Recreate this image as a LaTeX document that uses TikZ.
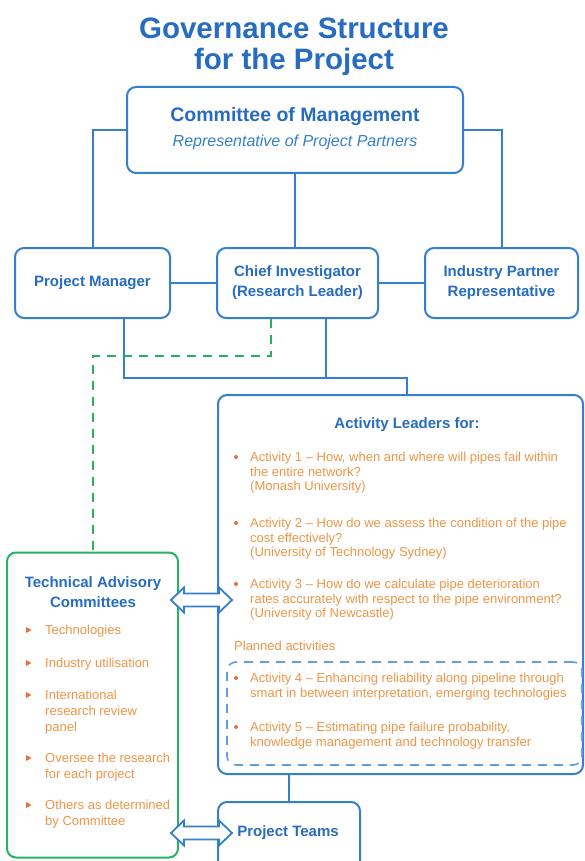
\documentclass[tikz,border=0pt]{standalone}
\usepackage{fontspec}
\setmainfont{Liberation Sans}
\definecolor{tblue}{RGB}{38,108,192}
\definecolor{lblue}{RGB}{52,128,205}
\definecolor{dblue}{RGB}{95,160,228}
\definecolor{gline}{RGB}{40,178,100}
\definecolor{gdash}{RGB}{45,175,85}
\definecolor{otext}{RGB}{238,150,72}
\definecolor{obul}{RGB}{232,112,60}
\begin{document}
\begin{tikzpicture}[x=1pt,y=-1pt,
  bx/.style={draw=lblue, line width=2pt, rounded corners=9pt, fill=white, inner sep=0pt},
  cn/.style={draw=lblue, line width=2pt},
  hd/.style={font=\fontsize{15}{20}\selectfont\bfseries, text=tblue, align=center, inner sep=0pt},
  ot/.style={font=\fontsize{13}{14.5}\selectfont, text=otext, align=left, anchor=north west, inner sep=0pt},
  tt/.style={font=\fontsize{13}{16}\selectfont, text=otext, align=left, anchor=north west, inner sep=0pt},
  blockarrow/.style={draw=lblue, line width=1.8pt, fill=white, line join=miter}
]
\useasboundingbox (0,0) rectangle (585,861);

% title
\node[font=\fontsize{29.5}{30.5}\selectfont\bfseries, text=tblue, align=center, inner sep=0pt] (title) at (294,47) {Governance Structure\\for the Project};

% boxes
\node[bx, minimum width=336, minimum height=86] (com) at (295,130) {};
\node[font=\fontsize{19.5}{22}\selectfont\bfseries, text=tblue, inner sep=0pt] (comt1) at (295,117) {Committee of Management};
\node[font=\fontsize{16}{18}\selectfont\itshape, text=lblue, inner sep=0pt] (comt2) at (295,142) {Representative of Project Partners};

\node[bx, minimum width=155, minimum height=70] (pm) at (92.5,283) {};
\node[hd] (pmt) at (pm.center) {Project Manager};
\node[bx, minimum width=161, minimum height=70] (ci) at (297.5,283) {};
\node[hd] (cit) at (ci.center) {Chief Investigator\\(Research Leader)};
\node[bx, minimum width=153, minimum height=70] (ind) at (501.5,283) {};
\node[hd] (indt) at (ind.center) {Industry Partner\\Representative};

% connectors top
\draw[cn] (com.west) -| (pm.north);
\draw[cn] (com.east) -| (ind.north);
\draw[cn] (com.south) -- (com.south |- ci.north);
\draw[cn] (pm.east) -- (ci.west);
\draw[cn] (ci.east) -- (ind.west);

% activity box
\node[bx, minimum width=365, minimum height=379] (act) at (400.5,584.5) {};
\coordinate (jn) at (407,378);
\coordinate (pmj) at ([xshift=31pt]pm.south);
\coordinate (cij) at ([xshift=28pt]ci.south);
\draw[cn] (pmj) |- (jn) -- (jn |- act.north);
\draw[cn] (cij) -- (cij |- jn);

% TAC box
\node[draw=gline, line width=2pt, rounded corners=9pt, fill=white, minimum width=171, minimum height=305, inner sep=0pt] (tac) at (92.5,705) {};
\coordinate (gst) at ([xshift=-27pt]ci.south);
\draw[gdash, line width=2pt, dash pattern=on 9pt off 7pt] (gst) -- ++(0,37) -| (tac.north);

% activity texts
\node[font=\fontsize{15}{18}\selectfont\bfseries, text=tblue, inner sep=0pt] (alt) at (407,425) {Activity Leaders for:};
\fill[obul] (236,457) circle (2);
\node[ot] (a1) at (250,452) {Activity 1 -- How, when and where will pipes fail within\\the entire network?\\(Monash University)};
\fill[obul] (236,523) circle (2);
\node[ot] (a2) at (250,518) {Activity 2 -- How do we assess the condition of the pipe\\cost effectively?\\(University of Technology Sydney)};
\fill[obul] (236,584) circle (2);
\node[ot] (a3) at (250,579) {Activity 3 -- How do we calculate pipe deterioration\\rates accurately with respect to the pipe environment?\\(University of Newcastle)};
\node[ot] (plan) at (234,641) {Planned activities};
\node[draw=dblue, line width=1.6pt, dash pattern=on 9pt off 7pt, rounded corners=9pt, minimum width=355, minimum height=103, inner sep=0pt] (pa) at (404.5,713.5) {};
\fill[obul] (236,678) circle (2);
\node[ot] (a4) at (250,673) {Activity 4 -- Enhancing reliability along pipeline through\\smart in between interpretation, emerging technologies};
\fill[obul] (236,727) circle (2);
\node[ot] (a5) at (250,722) {Activity 5 -- Estimating pipe failure probability,\\knowledge management and technology transfer};

% TAC texts
\node[hd] (tact) at (93,592) {Technical Advisory\\Committees};
\foreach \yy in {630,663,695,758,805}{\fill[obul] (26,\yy-3) -- (31.5,\yy) -- (26,\yy+3) -- cycle;}
\node[tt] (t1) at (45,625) {Technologies};
\node[tt] (t2) at (45,658) {Industry utilisation};
\node[tt] (t3) at (45,690) {International\\research review\\panel};
\node[tt] (t4) at (45,753) {Oversee the research\\for each project};
\node[tt] (t5) at (45,800) {Others as determined\\by Committee};

% project teams
\node[bx, minimum width=142, minimum height=90, anchor=north] (pt) at (289,801) {};
\node[hd] (ptt) at (288,833) {Project Teams};
\draw[cn] (pt.north) -- (pt.north |- act.south);

% block double arrows
\foreach \yy in {600,833}{
\draw[blockarrow] (171,\yy) -- (184,\yy-12.5) -- (184,\yy-6.5) -- (219,\yy-6.5) -- (219,\yy-12.5) -- (232,\yy) -- (219,\yy+12.5) -- (219,\yy+6.5) -- (184,\yy+6.5) -- (184,\yy+12.5) -- cycle;}
\end{tikzpicture}
\end{document}
